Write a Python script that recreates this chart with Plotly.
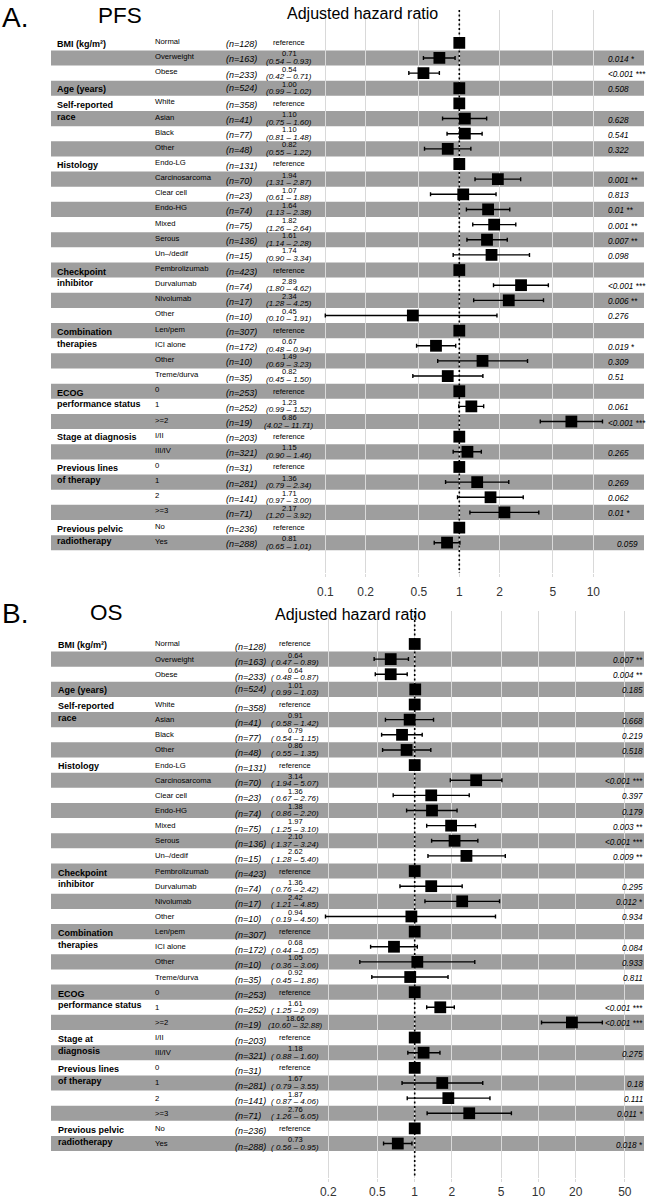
import plotly.graph_objects as go

W, H = 646, 1199
FONT = "Liberation Sans, Arial, Helvetica, sans-serif"

# ---------------- data ----------------
levels = ["Normal", "Overweight", "Obese", "", "White", "Asian", "Black", "Other",
          "Endo-LG", "Carcinosarcoma", "Clear cell", "Endo-HG", "Mixed", "Serous", "Un–/dedif",
          "Pembrolizumab", "Durvalumab", "Nivolumab", "Other",
          "Len/pem", "ICI alone", "Other", "Treme/durva",
          "0", "1", ">=2", "I/II", "III/IV", "0", "1", "2", ">=3", "No", "Yes"]
n_counts = [128, 163, 233, 524, 358, 41, 77, 48, 131, 70, 23, 74, 75, 136, 15,
            423, 74, 17, 10, 307, 172, 10, 35, 253, 252, 19, 203, 321, 31, 281, 141, 71, 236, 288]

group_rows = [0, 3, 4, 8, 15, 19, 23, 26, 28, 32]
group_labels_A = ["BMI (kg/m²)", "Age (years)", "Self-reported<br>race", "Histology",
                  "Checkpoint<br>inhibitor", "Combination<br>therapies", "ECOG<br>performance status",
                  "Stage at diagnosis", "Previous lines<br>of therapy", "Previous pelvic<br>radiotherapy"]
group_labels_B = ["BMI (kg/m²)", "Age (years)", "Self-reported<br>race", "Histology",
                  "Checkpoint<br>inhibitor", "Combination<br>therapies", "ECOG<br>performance status",
                  "Stage at<br>diagnosis", "Previous lines<br>of therapy", "Previous pelvic<br>radiotherapy"]

# PFS
hr_A = [None, 0.71, 0.54, 1.00, None, 1.10, 1.10, 0.82, None, 1.94, 1.07, 1.64, 1.82, 1.61, 1.74,
        None, 2.89, 2.34, 0.45, None, 0.67, 1.49, 0.82, None, 1.23, 6.86, None, 1.15,
        None, 1.36, 1.71, 2.17, None, 0.81]
lo_A = [None, 0.54, 0.42, 0.99, None, 0.75, 0.81, 0.55, None, 1.31, 0.61, 1.13, 1.26, 1.14, 0.90,
        None, 1.80, 1.28, 0.10, None, 0.48, 0.69, 0.45, None, 0.99, 4.02, None, 0.90,
        None, 0.79, 0.97, 1.20, None, 0.65]
hi_A = [None, 0.93, 0.71, 1.02, None, 1.60, 1.48, 1.22, None, 2.87, 1.88, 2.38, 2.64, 2.28, 3.34,
        None, 4.62, 4.25, 1.91, None, 0.94, 3.23, 1.50, None, 1.52, 11.71, None, 1.46,
        None, 2.34, 3.00, 3.92, None, 1.01]
p_A = ["", "0.014 *", "<0.001 ***", "0.508", "", "0.628", "0.541", "0.322", "", "0.001 **", "0.813",
       "0.01 **", "0.001 **", "0.007 **", "0.098", "", "<0.001 ***", "0.006 **", "0.276", "",
       "0.019 *", "0.309", "0.51", "", "0.061", "<0.001 ***", "", "0.265", "", "0.269", "0.062",
       "0.01 *", "", "0.059"]

# OS
hr_B = [None, 0.64, 0.64, 1.01, None, 0.91, 0.79, 0.86, None, 3.14, 1.36, 1.38, 1.97, 2.10, 2.62,
        None, 1.36, 2.42, 0.94, None, 0.68, 1.05, 0.92, None, 1.61, 18.66, None, 1.18,
        None, 1.67, 1.87, 2.76, None, 0.73]
lo_B = [None, 0.47, 0.48, 0.99, None, 0.58, 0.54, 0.55, None, 1.94, 0.67, 0.86, 1.25, 1.37, 1.28,
        None, 0.76, 1.21, 0.19, None, 0.44, 0.36, 0.45, None, 1.25, 10.60, None, 0.88,
        None, 0.79, 0.87, 1.26, None, 0.56]
hi_B = [None, 0.89, 0.87, 1.03, None, 1.42, 1.15, 1.35, None, 5.07, 2.76, 2.20, 3.10, 3.24, 5.40,
        None, 2.42, 4.85, 4.50, None, 1.05, 3.06, 1.86, None, 2.09, 32.88, None, 1.60,
        None, 3.55, 4.06, 6.05, None, 0.95]
p_B = ["", "0.007 **", "0.004 **", "0.185", "", "0.668", "0.219", "0.518", "", "<0.001 ***", "0.397",
       "0.179", "0.003 **", "<0.001 ***", "0.009 **", "", "0.295", "0.012 *", "0.934", "",
       "0.084", "0.933", "0.811", "", "<0.001 ***", "<0.001 ***", "", "0.275", "", "0.18", "0.111",
       "0.011 *", "", "0.018 *"]

ticks_A = [0.1, 0.2, 0.5, 1, 2, 5, 10]
ticks_B = [0.2, 0.5, 1, 2, 5, 10, 20, 50]

# ---------------- layout geometry (pixels) ----------------
panels = [
    dict(key="A", letter="A.", name="PFS", hr=hr_A, lo=lo_A, hi=hi_A, p=p_A, groups=group_labels_A,
         ticks=ticks_A, row0=43.1, pitch=15.25, grid_top=10, grid_bot=577,
         x1px=459.3, dec=134.0, col_group=55, col_level=153.3, col_n=224, col_est=289,
         lvl_off=-0.1, n_off=0.1, letter_top=0, name_x=120, name_y=15.5, title_x=362, title_y=13.5,
         ci_pad=False, xa="x", ya="y", standoff=4),
    dict(key="B", letter="B.", name="OS", hr=hr_B, lo=lo_B, hi=hi_B, p=p_B, groups=group_labels_B,
         ticks=ticks_B, row0=648.3, pitch=15.24, grid_top=615, grid_bot=1186,
         x1px=414.7, dec=123.7, col_group=56, col_level=153.3, col_n=232.7, col_est=295,
         lvl_off=0.0, n_off=0.2, letter_top=600, name_x=106.7, name_y=617, title_x=350.5, title_y=619,
         ci_pad=True, xa="x2", ya="y2", standoff=0),
]

fig = go.Figure()
annotations = []
shapes = []


def ann(px, py, text, size, anchor="left", color="black", yanchor="middle"):
    annotations.append(dict(x=px / W, y=1 - py / H, xref="paper", yref="paper", text=text,
                            showarrow=False, xanchor=anchor, yanchor=yanchor,
                            font=dict(family=FONT, size=size, color=color)))


layout_axes = {}
for P in panels:
    def rowpx(r, P=P):
        return P["row0"] + P["pitch"] * r

    nrows = len(levels)
    # alternating row bands
    for r in range(nrows):
        if r % 2 == 1:
            shapes.append(dict(type="rect", xref="paper", yref="paper", layer="below",
                               x0=51 / W, x1=644 / W,
                               y0=1 - rowpx(r + 0.5) / H, y1=1 - rowpx(r - 0.5) / H,
                               fillcolor="#9e9e9e", line=dict(width=0)))
    # axes
    r_top = (P["grid_top"] - P["row0"]) / P["pitch"]
    r_bot = (P["grid_bot"] - P["row0"]) / P["pitch"]
    xr = [(0 - P["x1px"]) / P["dec"], (W - P["x1px"]) / P["dec"]]
    xname = "xaxis" if P["xa"] == "x" else "xaxis2"
    yname = "yaxis" if P["ya"] == "y" else "yaxis2"
    layout_axes[xname] = dict(type="log", range=xr, domain=[0, 1], anchor=P["ya"],
                              tickvals=P["ticks"], ticktext=[f"{t:g}" for t in P["ticks"]],
                              showgrid=True, gridcolor="#d9d9d9", gridwidth=1, zeroline=False,
                              showline=False, ticks="outside", ticklen=3, tickcolor="#d9d9d9",
                              ticklabelstandoff=P["standoff"], fixedrange=True,
                              tickfont=dict(family=FONT, size=12, color="#333333"))
    layout_axes[yname] = dict(range=[r_bot, r_top], domain=[1 - P["grid_bot"] / H, 1 - P["grid_top"] / H],
                              anchor=P["xa"], visible=False, showgrid=False, zeroline=False,
                              fixedrange=True)

    # dotted reference line at HR = 1
    fig.add_trace(go.Scatter(x=[1, 1], y=[r_top, r_bot], mode="lines", xaxis=P["xa"], yaxis=P["ya"],
                             line=dict(color="black", width=1.6, dash="2px,2.5px"),
                             hoverinfo="skip", showlegend=False))

    ref_rows = [r for r in range(nrows) if P["hr"][r] is None]
    est_rows = [r for r in range(nrows) if P["hr"][r] is not None]
    fig.add_trace(go.Scatter(
        x=[P["hr"][r] for r in est_rows], y=est_rows, mode="markers", xaxis=P["xa"], yaxis=P["ya"],
        marker=dict(symbol="square", size=11.8, color="black", line=dict(width=0)),
        error_x=dict(type="data", symmetric=False,
                     array=[P["hi"][r] - P["hr"][r] for r in est_rows],
                     arrayminus=[P["hr"][r] - P["lo"][r] for r in est_rows],
                     color="black", thickness=1.4, width=2),
        showlegend=False, hoverinfo="skip"))
    fig.add_trace(go.Scatter(
        x=[1.0] * len(ref_rows), y=ref_rows, mode="markers", xaxis=P["xa"], yaxis=P["ya"],
        marker=dict(symbol="square", size=11.8, color="black", line=dict(width=0)),
        showlegend=False, hoverinfo="skip"))

    # headings
    ann(0, P["letter_top"], P["letter"], 28, yanchor="top")
    ann(P["name_x"], P["name_y"], P["name"], 22.5, anchor="center")
    ann(P["title_x"], P["title_y"], "Adjusted hazard ratio", 16, anchor="center")

    # group labels
    for r, lab in zip(group_rows, P["groups"]):
        lines = lab.split("<br>")
        if len(lines) == 1:
            ann(P["col_group"], rowpx(r + 0.05), f"<b>{lines[0]}</b>", 9)
        else:
            ann(P["col_group"], rowpx(r + 0.1), f"<b>{lines[0]}</b>", 9)
            ann(P["col_group"], rowpx(r + 0.87), f"<b>{lines[1]}</b>", 9)

    # row texts
    for r in range(nrows):
        if levels[r]:
            ann(P["col_level"], rowpx(r + P["lvl_off"]), levels[r], 7.7)
        ann(P["col_n"], rowpx(r + (P["n_off"] if levels[r] else 0)), f"<i>(n={n_counts[r]})</i>", 9)
        if P["hr"][r] is None:
            ann(P["col_est"], rowpx(r), "reference", 7.5, anchor="center")
        else:
            ann(P["col_est"], rowpx(r - 0.27), f"{P['hr'][r]:.2f}", 7.5, anchor="center")
            if P["ci_pad"]:
                ci = f"({P['lo'][r]:5.2f} – {P['hi'][r]:.2f})"
            else:
                ci = f"({P['lo'][r]:.2f} – {P['hi'][r]:.2f})"
            ann(P["col_est"], rowpx(r + 0.23), f"<i>{ci}</i>", 8, anchor="center")
        if P["p"][r]:
            txt = f"<i>{P['p'][r].replace('<', '&lt;')}</i>"
            if P["key"] == "A" and r < nrows - 1:
                ann(606.2, rowpx(r + 0.1), txt, 8.2, anchor="left")
            elif P["key"] == "A":
                ann(640, rowpx(r + 0.1), txt, 8.2, anchor="right")
            else:
                ann(645, rowpx(r + 0.1), txt, 8.2, anchor="right")

fig.update_layout(width=W, height=H, margin=dict(l=0, r=0, t=0, b=0),
                  paper_bgcolor="white", plot_bgcolor="rgba(0,0,0,0)", hovermode=False,
                  annotations=annotations, shapes=shapes, showlegend=False, **layout_axes)

fig.write_html("out.html", config={"displayModeBar": False, "staticPlot": True},
               post_script="document.body.style.margin='0';document.body.style.overflow='hidden';")
